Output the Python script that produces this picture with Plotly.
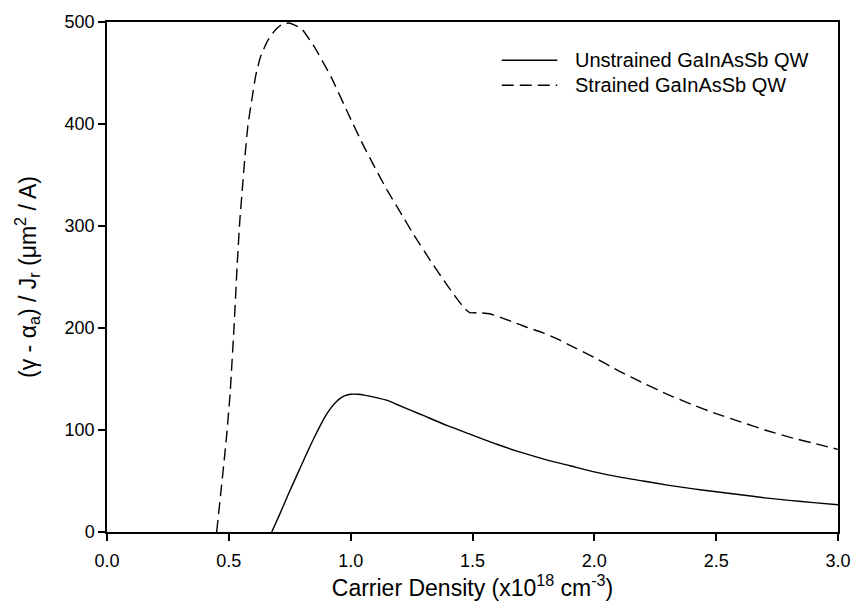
import plotly.graph_objects as go

# Unstrained GaInAsSb QW (solid)
unstrained_x = [0.676, 0.71, 0.744, 0.78, 0.812, 0.845, 0.879, 0.90, 0.92, 0.94, 0.96, 0.98,
                1.0, 1.03, 1.06, 1.10, 1.15, 1.19, 1.25, 1.30, 1.40, 1.50, 1.60, 1.70, 1.80,
                1.90, 2.0, 2.1, 2.2, 2.3, 2.4, 2.5, 2.6, 2.7, 2.8, 2.9, 3.0]
unstrained_y = [0, 18, 37, 56, 73, 90, 106, 115, 122, 127.5, 131.5, 134,
                135, 135, 134, 132, 129, 125, 119, 114, 104, 95, 86, 78, 71,
                65, 59, 54, 50, 46, 42.5, 39.5, 36.5, 33.5, 31, 28.8, 26.7]

# Strained GaInAsSb QW (dashed)
strained_x = [0.45, 0.47, 0.49, 0.505, 0.52, 0.535, 0.545, 0.555, 0.565, 0.578, 0.595, 0.61,
              0.63, 0.66, 0.69, 0.72, 0.745, 0.77, 0.80, 0.85, 0.92, 0.99, 1.05, 1.10, 1.15,
              1.20, 1.26, 1.33, 1.39, 1.435, 1.465, 1.489, 1.52, 1.57, 1.62, 1.665, 1.72,
              1.787, 1.85, 1.9, 2.0, 2.1, 2.2, 2.3, 2.4, 2.5, 2.6, 2.7, 2.8, 2.9, 3.0]
strained_y = [0, 45, 92, 135, 195, 265, 305, 335, 365, 398, 425, 447,
              466, 482, 492, 498, 499, 497, 493, 476, 446, 410, 380, 357, 335,
              315, 291, 265, 244, 229, 220, 215, 215, 214, 210, 206, 201,
              195.5, 189, 183, 171, 158, 146, 135, 125, 116, 108, 100, 93, 87, 81]

series_names = ["Unstrained GaInAsSb QW", "Strained GaInAsSb QW"]
series_dash = ["solid", "12px,6px"]

x_ticks = [0.0, 0.5, 1.0, 1.5, 2.0, 2.5, 3.0]
y_ticks = [0, 100, 200, 300, 400, 500]

FONT = "Liberation Sans, Arial, sans-serif"

fig = go.Figure()
fig.add_trace(go.Scatter(x=unstrained_x, y=unstrained_y, mode="lines",
                         name=series_names[0], showlegend=False,
                         line=dict(color="black", width=1.4, dash=series_dash[0],
                                   shape="spline", smoothing=0.6)))
fig.add_trace(go.Scatter(x=strained_x, y=strained_y, mode="lines",
                         name=series_names[1], showlegend=False,
                         line=dict(color="black", width=1.4, dash=series_dash[1],
                                   shape="spline", smoothing=0.4)))

axis_common = dict(showgrid=False, zeroline=False, showline=True, linecolor="black",
                   linewidth=1.5, mirror=True, ticks="outside", ticklen=7,
                   tickwidth=1.5, tickcolor="black",
                   tickfont=dict(family=FONT, size=18, color="black"))

fig.update_xaxes(range=[0, 3.0], tickvals=x_ticks, tickformat=".1f",
                 ticklabelstandoff=5,
                 title=dict(text="Carrier Density (x10<sup>18</sup> cm<sup>-3</sup>)",
                            font=dict(family=FONT, size=23, color="black"), standoff=6),
                 **axis_common)
fig.update_yaxes(range=[0, 500], tickvals=y_ticks,
                 title=dict(text="(γ - α<sub>a</sub>) / J<sub>r</sub> (μm<sup>2</sup> / A)",
                            font=dict(family=FONT, size=23, color="black"), standoff=22),
                 **axis_common)

# Legend drawn in paper coordinates (upper right, no frame)
legend_rows_y = [0.925, 0.876]
for name, dash, yy in zip(series_names, series_dash, legend_rows_y):
    fig.add_shape(type="line", xref="paper", yref="paper",
                  x0=0.540, x1=0.616, y0=yy, y1=yy,
                  line=dict(color="black", width=1.4, dash=dash))
    fig.add_annotation(xref="paper", yref="paper", x=0.637, y=yy,
                       xanchor="left", yanchor="middle", showarrow=False,
                       text=name, font=dict(family=FONT, size=20, color="black"))

fig.update_layout(
    width=863, height=615,
    margin=dict(l=107, r=17, t=14, b=83),
    paper_bgcolor="white", plot_bgcolor="white",
    showlegend=False,
)

fig.write_html("out.html")
